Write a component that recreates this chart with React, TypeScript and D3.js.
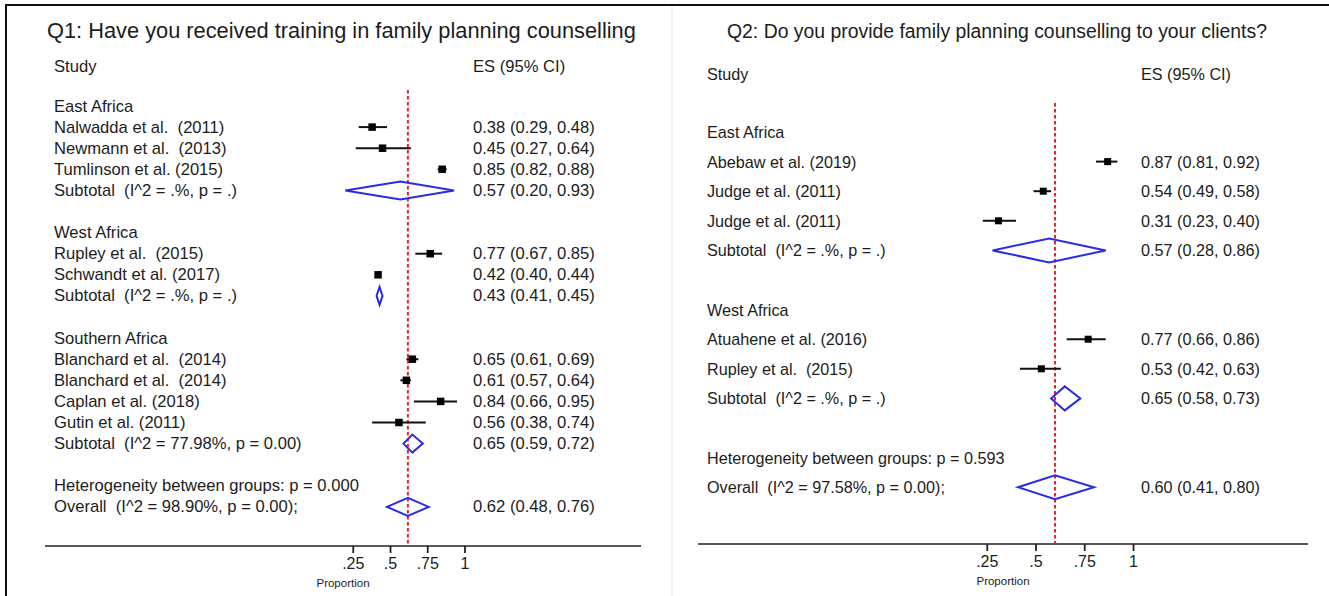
import React, { useEffect, useRef } from 'react';
import * as d3 from 'd3';

// Q1 panel rows
const q1Labels = [
  'East Africa',
  'Nalwadda et al.  (2011)',
  'Newmann et al.  (2013)',
  'Tumlinson et al. (2015)',
  'Subtotal  (I^2 = .%, p = .)',
  '',
  'West Africa',
  'Rupley et al.  (2015)',
  'Schwandt et al. (2017)',
  'Subtotal  (I^2 = .%, p = .)',
  '',
  'Southern Africa',
  'Blanchard et al.  (2014)',
  'Blanchard et al.  (2014)',
  'Caplan et al. (2018)',
  'Gutin et al. (2011)',
  'Subtotal  (I^2 = 77.98%, p = 0.00)',
  '',
  'Heterogeneity between groups: p = 0.000',
  'Overall  (I^2 = 98.90%, p = 0.00);',
];
const q1Kinds = [
  'group', 'study', 'study', 'study', 'subtotal', 'blank',
  'group', 'study', 'study', 'subtotal', 'blank',
  'group', 'study', 'study', 'study', 'study', 'subtotal', 'blank',
  'het', 'overall',
];
const q1Es = [null, 0.38, 0.45, 0.85, 0.57, null, null, 0.77, 0.42, 0.43, null, null, 0.65, 0.61, 0.84, 0.56, 0.65, null, null, 0.62];
const q1Lo = [null, 0.29, 0.27, 0.82, 0.2, null, null, 0.67, 0.4, 0.41, null, null, 0.61, 0.57, 0.66, 0.38, 0.59, null, null, 0.48];
const q1Hi = [null, 0.48, 0.64, 0.88, 0.93, null, null, 0.85, 0.44, 0.45, null, null, 0.69, 0.64, 0.95, 0.74, 0.72, null, null, 0.76];

// Q2 panel rows
const q2Labels = [
  'East Africa',
  'Abebaw et al. (2019)',
  'Judge et al. (2011)',
  'Judge et al. (2011)',
  'Subtotal  (I^2 = .%, p = .)',
  '',
  'West Africa',
  'Atuahene et al. (2016)',
  'Rupley et al.  (2015)',
  'Subtotal  (I^2 = .%, p = .)',
  '',
  'Heterogeneity between groups: p = 0.593',
  'Overall  (I^2 = 97.58%, p = 0.00);',
];
const q2Kinds = [
  'group', 'study', 'study', 'study', 'subtotal', 'blank',
  'group', 'study', 'study', 'subtotal', 'blank',
  'het', 'overall',
];
const q2Es = [null, 0.87, 0.54, 0.31, 0.57, null, null, 0.77, 0.53, 0.65, null, null, 0.6];
const q2Lo = [null, 0.81, 0.49, 0.23, 0.28, null, null, 0.66, 0.42, 0.58, null, null, 0.41];
const q2Hi = [null, 0.92, 0.58, 0.4, 0.86, null, null, 0.86, 0.63, 0.73, null, null, 0.8];

const tickValues = [0.25, 0.5, 0.75, 1];
const tickLabels = ['.25', '.5', '.75', '1'];

const FONT = '"Liberation Sans", Arial, sans-serif';
const TEXT = '#1c1c1c';
const BLUE = '#2b2be6';
const RED = '#e8232d';

type PanelProps = {
  title: string;
  titleX: number;
  titleY: number;
  titleAnchor: 'start' | 'middle';
  titleSize: number;
  labels: string[];
  kinds: string[];
  es: (number | null)[];
  lo: (number | null)[];
  hi: (number | null)[];
  xRange: [number, number];
  row0: number;
  rowStep: number;
  headerY: number;
  labelX: number;
  esX: number;
  fontSize: number;
  marker: number;
  diamondH: number;
  axisY: number;
  axisX: [number, number];
  refTop: number;
  propX: number;
};

function Panel(p: PanelProps) {
  const axisRef = useRef<SVGGElement>(null);
  const x = d3.scaleLinear().domain([0, 1]).range(p.xRange);
  const y = d3.scaleLinear().domain([0, 1]).range([p.row0, p.row0 + p.rowStep]);
  const overallIdx = p.kinds.indexOf('overall');
  const overall = p.es[overallIdx] as number;

  useEffect(() => {
    const g = d3.select(axisRef.current);
    g.selectAll('*').remove();
    g.call(
      d3
        .axisBottom(x)
        .tickValues(tickValues)
        .tickFormat((_d, i) => tickLabels[i])
        .tickSize(7)
        .tickPadding(5)
        .tickSizeOuter(0)
    );
    g.select('.domain').remove();
    g.selectAll('.tick line').attr('stroke', '#222').attr('stroke-width', 1.8);
    g.selectAll('.tick text')
      .attr('fill', TEXT)
      .style('font-family', FONT)
      .style('font-size', '16px');
  }, []);

  const fmt = (v: number) => v.toFixed(2);

  return (
    <g>
      <text
        x={p.titleX}
        y={p.titleY}
        textAnchor={p.titleAnchor}
        dominantBaseline="central"
        fontSize={p.titleSize}
        fill={TEXT}
        fontFamily={FONT}
      >
        {p.title}
      </text>
      <text x={p.labelX} y={p.headerY} dominantBaseline="central" fontSize={p.fontSize} fill={TEXT} fontFamily={FONT}>
        Study
      </text>
      <text x={p.esX} y={p.headerY} dominantBaseline="central" fontSize={p.fontSize} fill={TEXT} fontFamily={FONT}>
        ES (95% CI)
      </text>

      {p.labels.map((lab, i) => (
        <text
          key={'l' + i}
          x={p.labelX}
          y={y(i)}
          dominantBaseline="central"
          fontSize={p.fontSize}
          fill={TEXT}
          fontFamily={FONT}
          style={{ whiteSpace: 'pre' }}
        >
          {lab}
        </text>
      ))}

      {p.es.map((v, i) =>
        v == null ? null : (
          <text key={'e' + i} x={p.esX} y={y(i)} dominantBaseline="central" fontSize={p.fontSize} fill={TEXT} fontFamily={FONT}>
            {`${fmt(v)} (${fmt(p.lo[i] as number)}, ${fmt(p.hi[i] as number)})`}
          </text>
        )
      )}

      {/* axis */}
      <line x1={p.axisX[0]} x2={p.axisX[1]} y1={p.axisY} y2={p.axisY} stroke="#222" strokeWidth={1.5} />
      <g ref={axisRef} transform={`translate(0,${p.axisY})`} />
      <text x={p.propX} y={p.axisY + 37} textAnchor="middle" dominantBaseline="central" fontSize={11.5} fill={TEXT} fontFamily={FONT}>
        Proportion
      </text>

      {/* overall reference line */}
      <line
        x1={x(overall)}
        x2={x(overall)}
        y1={p.refTop}
        y2={p.axisY}
        stroke={RED}
        strokeWidth={2}
        strokeDasharray="3.5,2.5"
      />

      {/* studies */}
      {p.es.map((v, i) => {
        if (v == null || p.kinds[i] !== 'study') return null;
        const cy = y(i);
        return (
          <g key={'s' + i}>
            <line x1={x(p.lo[i] as number)} x2={x(p.hi[i] as number)} y1={cy} y2={cy} stroke="#111" strokeWidth={2} />
            <rect x={x(v) - p.marker / 2} y={cy - p.marker / 2} width={p.marker} height={p.marker} fill="#000" />
          </g>
        );
      })}

      {/* pooled diamonds */}
      {p.es.map((v, i) => {
        if (v == null || (p.kinds[i] !== 'subtotal' && p.kinds[i] !== 'overall')) return null;
        const cy = y(i);
        const d = `M${x(p.lo[i] as number)},${cy} L${x(v)},${cy - p.diamondH} L${x(p.hi[i] as number)},${cy} L${x(v)},${cy + p.diamondH} Z`;
        return <path key={'d' + i} d={d} fill="none" stroke={BLUE} strokeWidth={2} strokeLinejoin="miter" />;
      })}
    </g>
  );
}

export default function App() {
  return (
    <div style={{ position: 'absolute', left: 0, top: 0, background: '#fff' }}>
      <svg width={1329} height={596} style={{ display: 'block' }}>
        <rect width={1329} height={596} fill="#fff" />
        <line x1={672} x2={672} y1={6} y2={596} stroke="#ececec" strokeWidth={1.5} />
        <Panel
          title="Q1: Have you received training in family planning counselling"
          titleX={47}
          titleY={30}
          titleAnchor="start"
          titleSize={21.8}
          labels={q1Labels}
          kinds={q1Kinds}
          es={q1Es}
          lo={q1Lo}
          hi={q1Hi}
          xRange={[315.5, 464.5]}
          row0={106}
          rowStep={21.1}
          headerY={66}
          labelX={54}
          esX={473}
          fontSize={16.6}
          marker={7.5}
          diamondH={9}
          axisY={546}
          axisX={[45, 641]}
          refTop={90}
          propX={343}
        />
        <Panel
          title="Q2: Do you provide family planning counselling to your clients?"
          titleX={997}
          titleY={31}
          titleAnchor="middle"
          titleSize={19.4}
          labels={q2Labels}
          kinds={q2Kinds}
          es={q2Es}
          lo={q2Lo}
          hi={q2Hi}
          xRange={[938, 1133]}
          row0={132}
          rowStep={29.6}
          headerY={74}
          labelX={707}
          esX={1141}
          fontSize={16.2}
          marker={7}
          diamondH={12}
          axisY={544}
          axisX={[698, 1308]}
          refTop={103}
          propX={1003}
        />
        {/* frame */}
        <line x1={5} x2={1329} y1={5} y2={5} stroke="#111" strokeWidth={2} />
        <line x1={6} x2={6} y1={5} y2={596} stroke="#111" strokeWidth={2} />
      </svg>
    </div>
  );
}
